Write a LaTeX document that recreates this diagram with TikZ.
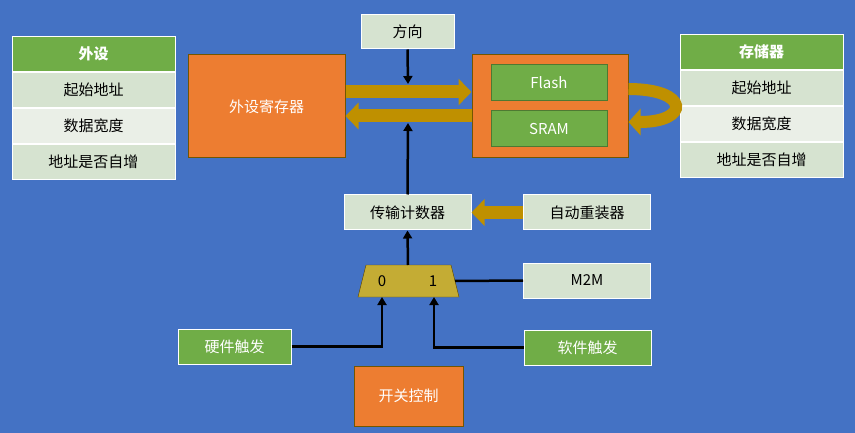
\documentclass[tikz,border=0pt]{standalone}
\usepackage{fontspec}
\setmainfont{Noto Sans CJK SC}
\usetikzlibrary{arrows.meta,positioning,shapes.geometric}
\definecolor{bgblue}{HTML}{4472C4}
\definecolor{orng}{HTML}{ED7D31}
\definecolor{grn}{HTML}{70AD47}
\definecolor{lgrn}{HTML}{D6E3D0}
\definecolor{llgrn}{HTML}{EAEFE7}
\definecolor{gold}{HTML}{BF9000}
\definecolor{muxc}{HTML}{C4AC34}

\tikzset{
  box/.style={draw=white,line width=1pt,fill=lgrn,minimum width=127pt,minimum height=35pt,font=\fontsize{15}{17}\selectfont,inner sep=0pt},
  gbox/.style={box,fill=grn,text=white},
  obox/.style={draw=gold!60!black,line width=1pt,fill=orng,text=white,font=\fontsize{15}{17}\selectfont,inner sep=0pt},
  row/.style={box,minimum width=163pt,minimum height=35pt},
  fat/.style={line width=13pt,draw=gold,-{Triangle[length=13pt,width=26pt]}},
  thin/.style={line width=2.5pt,-{Triangle[length=8pt,width=9pt]}},
  wire/.style={line width=2.5pt}
}

\begin{document}
\begin{tikzpicture}[x=1pt,y=-1pt]

% background
\fill[bgblue] (0,0) rectangle (855,433);

% peripheral table
\node[row,fill=grn,text=white,font=\fontsize{15}{17}\selectfont\bfseries] (pt) at (93.5,54) {外设};
\node[row,below=0pt of pt] (pt1) {起始地址};
\node[row,fill=llgrn,below=0pt of pt1] (pt2) {数据宽度};
\node[row,below=0pt of pt2] (pt3) {地址是否自增};

% memory table
\node[row,fill=grn,text=white,font=\fontsize{15}{17}\selectfont\bfseries] (mt) at (761.5,52) {存储器};
\node[row,below=0pt of mt] (mt1) {起始地址};
\node[row,fill=llgrn,below=0pt of mt1] (mt2) {数据宽度};
\node[row,below=0pt of mt2] (mt3) {地址是否自增};

% main blocks
\node[obox,minimum width=157pt,minimum height=103pt] (preg) at (266.5,106.5) {外设寄存器};
\node[obox,minimum width=156pt,minimum height=103pt] (mem) at (550,106.5) {};
\node[gbox,draw=grn!70!black,minimum width=116pt,minimum height=36pt] (flash) at (549,83) {Flash};
\node[gbox,draw=grn!70!black,minimum width=116pt,minimum height=36pt] (sram) at (549,129) {SRAM};

\node[box,minimum width=93pt,minimum height=34pt] (dir) at (407.5,32) {方向};
\node[box] (cnt) at (407.5,212.5) {传输计数器};
\node[box] (rld) at (587,212.5) {自动重装器};
\node[box] (m2m) at (587,280.5) {M2M};
\node[gbox,minimum width=113pt] (hw) at (234.5,346.5) {硬件触发};
\node[gbox] (sw) at (587.5,347.5) {软件触发};
\node[obox,minimum width=109pt,minimum height=60pt] (sc) at (408.5,396) {开关控制};

% multiplexer
\draw[fill=muxc,draw=gold!50!black] (366,265) coordinate (mtl) -- (451,265) -- (459,297) -- (358,297) -- cycle;
\coordinate (mtop) at (408,265);
\coordinate (m0) at (382,297);
\coordinate (m1) at (434,297);
\coordinate (mr) at (455,281);
\node[font=\fontsize{15}{17}\selectfont] (l0) at (382,281) {0};
\node[font=\fontsize{15}{17}\selectfont] (l1) at (433,281) {1};

% fat buses
\draw[fat] (preg.east |- 0,92) -- (mem.west |- 0,92);
\draw[fat] (mem.west |- 0,116) -- (preg.east |- 0,116);
\draw[fat] (rld.west) -- (cnt.east);
\draw[line width=12pt,draw=gold,-{Triangle[length=12pt,width=26pt]}]
  (mem.east |- 0,89) .. controls (690,89) and (690,122) .. (mem.east |- 0,122);

% control lines
\coordinate (dd) at (408,84);
\coordinate (cu) at (408,123);
\draw[thin] (dir.south) -- (dd);
\draw[thin] (cnt.north) -- (cu);
\draw[thin] (mtop) -- (cnt.south);
\draw[wire] (m2m.west) -- (mr);
\draw[thin] (hw.east) -| (m0);
\draw[thin] (sw.west) -| (m1);

\end{tikzpicture}
\end{document}
